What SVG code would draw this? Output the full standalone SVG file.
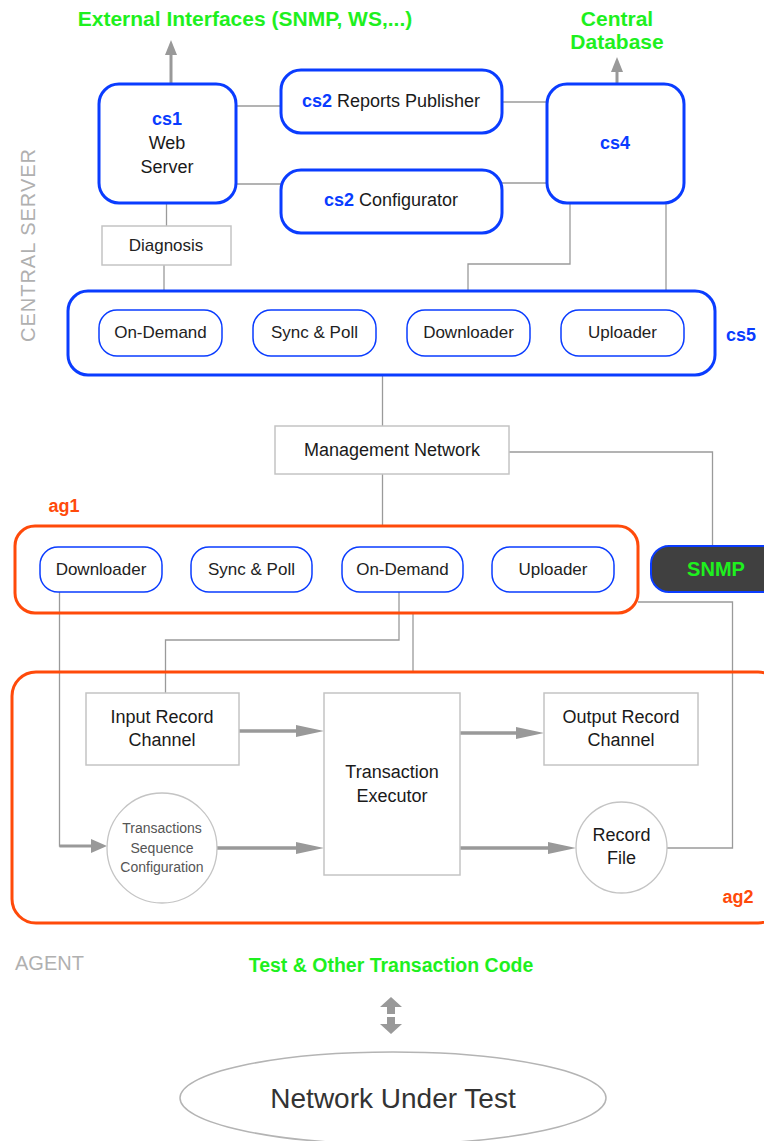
<svg xmlns="http://www.w3.org/2000/svg" width="764" height="1141" viewBox="0 0 764 1141">
<style>
text{font-family:"Liberation Sans",Arial,sans-serif;}
.bl{fill:none;stroke:#0a3cff;stroke-width:3;}
.bp{fill:#fff;stroke:#0a3cff;stroke-width:1.5;}
.or{fill:none;stroke:#ff4a0a;stroke-width:3;}
.gb{fill:#fff;stroke:#c4c4c4;stroke-width:1.5;}
.ln{fill:none;stroke:#9a9a9a;stroke-width:1.3;}
.ar{fill:none;stroke:#999;stroke-width:3.5;marker-end:url(#ah);}
.up{fill:none;stroke:#999;stroke-width:3;marker-end:url(#uh);}
.t{font-size:18px;fill:#1a1a1a;text-anchor:middle;}
.tp{font-size:17px;fill:#222;text-anchor:middle;}
.cs{font-weight:bold;fill:#0a3cff;}
.grn{font-weight:bold;fill:#1ef01e;font-size:21px;text-anchor:middle;}
.org{font-weight:bold;fill:#ff4a0a;font-size:18px;text-anchor:middle;}
.lt{fill:#b0b0b0;font-size:20px;}
</style>
<defs>
<marker id="ah" markerUnits="userSpaceOnUse" markerWidth="30" markerHeight="14" refX="0" refY="7" orient="auto"><path d="M0,1 L28,7 L0,13 z" fill="#999"/></marker>
<marker id="uh" markerUnits="userSpaceOnUse" markerWidth="16" markerHeight="14" refX="0" refY="7" orient="auto"><path d="M0,1 L15,7 L0,13 z" fill="#999"/></marker>
</defs>

<g id="labels">
<text class="grn" x="245" y="26">External Interfaces (SNMP, WS,...)</text>
<text class="grn" x="617" y="26">Central</text>
<text class="grn" x="617" y="49">Database</text>
<text class="lt" transform="translate(35,245) rotate(-90)" text-anchor="middle" letter-spacing="1">CENTRAL SERVER</text>
<text class="lt" x="15" y="970" font-size="21">AGENT</text>
<text class="grn" x="391" y="972" style="font-size:19.5px">Test &amp; Other Transaction Code</text>
</g>

<g id="connectors">
<line class="up" x1="171" y1="83" x2="171" y2="55"/>
<line class="up" x1="617" y1="83" x2="617" y2="72"/>
<line class="ln" x1="236" y1="106" x2="281" y2="106"/>
<line class="ln" x1="502" y1="102" x2="547" y2="102"/>
<line class="ln" x1="236" y1="184" x2="281" y2="184"/>
<line class="ln" x1="502" y1="183" x2="547" y2="183"/>
<line class="ln" x1="166.5" y1="203" x2="166.5" y2="226"/>
<line class="ln" x1="164" y1="265" x2="164" y2="291"/>
<polyline class="ln" points="570,203 570,264 468,264 468,291"/>
<line class="ln" x1="666" y1="203" x2="666" y2="291"/>
<line class="ln" x1="382.5" y1="375" x2="382.5" y2="426"/>
<line class="ln" x1="382.5" y1="474" x2="382.5" y2="526"/>
<polyline class="ln" points="509,452 712.5,452 712.5,546"/>
<polyline class="ln" points="399,592 399,640 165.5,640 165.5,693"/>
<line class="ln" x1="413" y1="613" x2="413" y2="672"/>
<polyline class="ln" points="638,602 732.5,602 732.5,848 667,848"/>
<polyline class="ln" points="59.5,592 59.5,846 92,846"/>
<line x1="59.5" y1="846" x2="92" y2="846" stroke="#999" stroke-width="3"/>
<path d="M91,839 L107,846 L91,853 z" fill="#999"/>
<line class="ar" x1="239" y1="731" x2="296" y2="731"/>
<line class="ar" x1="460" y1="733" x2="516" y2="733"/>
<line class="ar" x1="217" y1="848" x2="296" y2="848"/>
<line class="ar" x1="460" y1="848" x2="548" y2="848"/>
<path d="M391,997 L402,1007 L395,1007 L395,1014 L387,1014 L387,1007 L380,1007 z" fill="#999"/>
<path d="M391,1034 L402,1024 L395,1024 L395,1017 L387,1017 L387,1024 L380,1024 z" fill="#999"/>
</g>

<g id="cs1">
<rect class="bl" x="99" y="84" width="137" height="119" rx="20"/>
<text class="t cs" x="167" y="125">cs1</text>
<text class="t" x="167" y="149">Web</text>
<text class="t" x="167" y="173">Server</text>
</g>
<g id="cs2-publisher">
<rect class="bl" x="281" y="70" width="221" height="63" rx="20"/>
<text class="t" x="391" y="107"><tspan class="cs">cs2</tspan> Reports Publisher</text>
</g>
<g id="cs2-configurator">
<rect class="bl" x="281" y="170" width="221" height="63" rx="20"/>
<text class="t" x="391" y="206"><tspan class="cs">cs2</tspan> Configurator</text>
</g>
<g id="cs4">
<rect class="bl" x="547" y="84" width="137" height="119" rx="20"/>
<text class="t cs" x="615" y="149">cs4</text>
</g>
<g id="diagnosis">
<rect class="gb" x="102" y="226" width="129" height="39"/>
<text class="tp" x="166" y="251">Diagnosis</text>
</g>

<g id="cs5">
<rect class="bl" x="68" y="291" width="647" height="84" rx="20"/>
<rect class="bp" x="99" y="310" width="123" height="46" rx="18"/>
<text class="tp" x="160.5" y="338">On-Demand</text>
<rect class="bp" x="253" y="310" width="123" height="46" rx="18"/>
<text class="tp" x="314.5" y="338">Sync &amp; Poll</text>
<rect class="bp" x="407" y="310" width="123" height="46" rx="18"/>
<text class="tp" x="468.5" y="338">Downloader</text>
<rect class="bp" x="561" y="310" width="123" height="46" rx="18"/>
<text class="tp" x="622.5" y="338">Uploader</text>
<text class="t cs" x="741" y="341">cs5</text>
</g>

<g id="management-network">
<rect class="gb" x="275" y="426" width="234" height="48"/>
<text class="t" x="392" y="456">Management Network</text>
</g>

<g id="ag1">
<text class="org" x="64" y="512">ag1</text>
<rect class="or" x="15" y="526" width="623" height="87" rx="20"/>
<rect class="bp" x="40" y="547" width="122" height="45" rx="18"/>
<text class="tp" x="101" y="575">Downloader</text>
<rect class="bp" x="191" y="547" width="121" height="45" rx="18"/>
<text class="tp" x="251.5" y="575">Sync &amp; Poll</text>
<rect class="bp" x="342" y="547" width="121" height="45" rx="18"/>
<text class="tp" x="402.5" y="575">On-Demand</text>
<rect class="bp" x="492" y="547" width="122" height="45" rx="18"/>
<text class="tp" x="553" y="575">Uploader</text>
</g>

<g id="snmp">
<rect x="651" y="546" width="130" height="46" rx="18" fill="#404040" stroke="#0a3cff" stroke-width="2"/>
<text class="grn" x="716" y="576" style="font-size:20px">SNMP</text>
</g>

<g id="ag2">
<rect class="or" x="12" y="672" width="770" height="251" rx="24"/>
<text class="org" x="738" y="903">ag2</text>
</g>
<g id="input-record-channel">
<rect class="gb" x="86" y="693" width="153" height="72"/>
<text class="t" x="162" y="723">Input Record</text>
<text class="t" x="162" y="746">Channel</text>
</g>
<g id="transaction-executor">
<rect class="gb" x="324" y="693" width="136" height="182"/>
<text class="t" x="392" y="778">Transaction</text>
<text class="t" x="392" y="802">Executor</text>
</g>
<g id="output-record-channel">
<rect class="gb" x="544" y="693" width="154" height="72"/>
<text class="t" x="621" y="723">Output Record</text>
<text class="t" x="621" y="746">Channel</text>
</g>
<g id="transactions-sequence-configuration">
<ellipse cx="162" cy="848" rx="55" ry="55" fill="#fff" stroke="#c4c4c4" stroke-width="1.3"/>
<text x="162" y="833" font-size="14" fill="#555" text-anchor="middle">Transactions</text>
<text x="162" y="853" font-size="14" fill="#555" text-anchor="middle">Sequence</text>
<text x="162" y="872" font-size="14" fill="#555" text-anchor="middle">Configuration</text>
</g>
<g id="record-file">
<ellipse cx="621.5" cy="847.5" rx="45.5" ry="45.5" fill="#fff" stroke="#c4c4c4" stroke-width="1.3"/>
<text class="t" x="621.5" y="841">Record</text>
<text class="t" x="621.5" y="864">File</text>
</g>

<g id="network-under-test">
<ellipse cx="393" cy="1098" rx="213" ry="46" fill="#fff" stroke="#b4b4b4" stroke-width="1.5"/>
<text x="393" y="1108" font-size="28" fill="#333" text-anchor="middle">Network Under Test</text>
</g>
</svg>
